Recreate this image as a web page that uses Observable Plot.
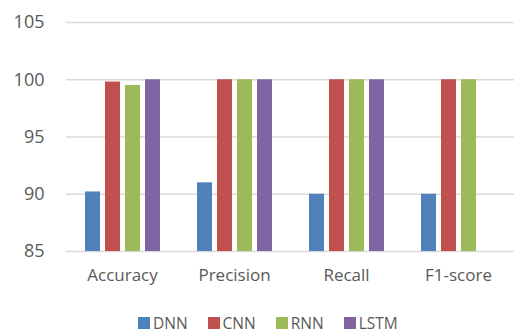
<!DOCTYPE html>
<html>
<head>
<meta charset="utf-8">
<script src="https://cdn.jsdelivr.net/npm/d3@7"></script>
<script src="https://cdn.jsdelivr.net/npm/@observablehq/plot@0.6"></script>
<style>
  html, body { margin: 0; padding: 0; background: #fff; overflow: hidden; }
  #chart svg { display: block; }
  .legend {
    display: flex; align-items: center; height: 36px; box-sizing: border-box;
    padding-top: 14px; padding-left: 138px; line-height: 14px;
    font-family: "Open Sans", sans-serif; font-size: 15.5px; color: #595959;
  }
  .legend .item { display: flex; align-items: center; margin-right: 20px; height: 14px; }
  .legend .sw { width: 12px; height: 12px; margin-right: 3px; }
</style>
</head>
<body>
<div id="chart"></div>
<script>
// Evaluation metrics for each model (percent)
const metrics = ["Accuracy", "Precision", "Recall", "F1-score"];
const models = ["DNN", "CNN", "RNN", "LSTM"];
const colors = ["#4F81BD", "#C0504D", "#9BBB59", "#8064A2"];
const dnn  = [90.2, 91, 90, 90];
const cnn  = [99.8, 100, 100, 100];
const rnn  = [99.5, 100, 100, 100];
const lstm = [100, 100, 100, null];
const yTicks = [85, 90, 95, 100, 105];

const series = [dnn, cnn, rnn, lstm];
const rows = [];
metrics.forEach((metric, i) => {
  models.forEach((model, j) => {
    const value = series[j][i];
    if (value != null) rows.push({metric, model, value});
  });
});

const font = "'Open Sans', sans-serif";
const chart = Plot.plot({
  width: 515,
  height: 298,
  marginLeft: 66,
  marginRight: 1,
  marginTop: 22,
  marginBottom: 47,
  style: {fontFamily: font, color: "#595959", background: "#fff"},
  fx: {domain: metrics, padding: 0, label: null},
  x: {domain: models, paddingInner: 0.25, paddingOuter: 0.925, axis: null},
  y: {domain: [85, 105], ticks: yTicks, label: null},
  color: {domain: models, range: colors},
  marks: [
    Plot.gridY(yTicks, {stroke: "#d9d9d9", strokeOpacity: 1, strokeWidth: 1.5}),
    Plot.barY(rows, {fx: "metric", x: "model", y1: 85, y2: "value", fill: "model"}),
    Plot.axisY(yTicks, {tickSize: 0, tickPadding: 22, fontSize: 18, label: null}),
    Plot.axisFx({anchor: "bottom", tickSize: 0, tickPadding: 17, fontSize: 17, label: null})
  ]
});
document.getElementById("chart").appendChild(chart);

// Series legend below the chart
const legend = document.createElement("div");
legend.className = "legend";
models.forEach((m, i) => {
  const item = document.createElement("div");
  item.className = "item";
  const sw = document.createElement("span");
  sw.className = "sw";
  sw.style.background = colors[i];
  const label = document.createElement("span");
  label.textContent = m;
  item.appendChild(sw);
  item.appendChild(label);
  legend.appendChild(item);
});
document.body.appendChild(legend);
</script>
</body>
</html>
